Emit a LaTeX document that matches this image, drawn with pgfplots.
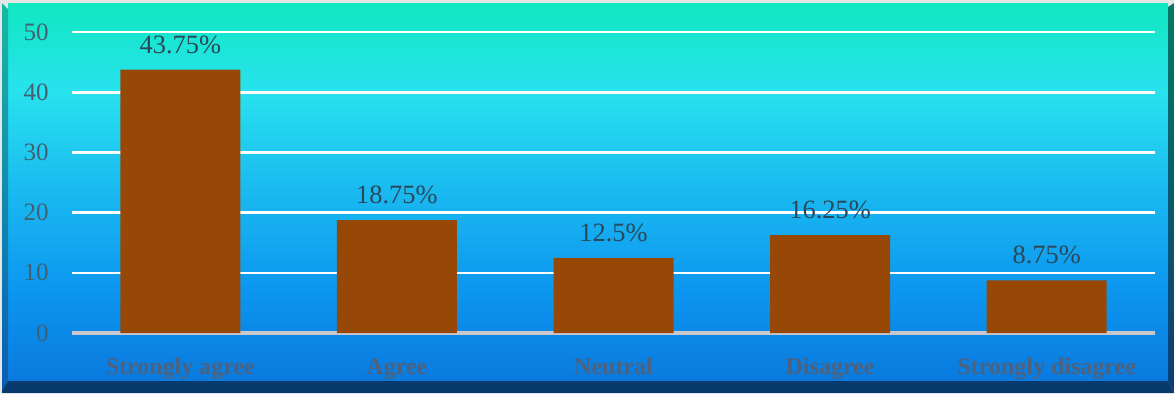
\documentclass[border=0pt]{standalone}
\usepackage{fontspec}
\setmainfont{Liberation Serif}
\usepackage{pgfplots}
\pgfplotsset{compat=1.18}
\definecolor{framegray}{RGB}{228,230,232}
\definecolor{fc1}{RGB}{10,122,222}
\definecolor{fc2}{RGB}{12,150,240}
\definecolor{fc3}{RGB}{26,186,240}
\definecolor{fc4}{RGB}{40,226,238}
\definecolor{fc5}{RGB}{16,232,192}
\definecolor{lbT}{RGB}{24,184,164}
\definecolor{lbB}{RGB}{10,92,180}
\definecolor{rbT}{RGB}{8,120,100}
\definecolor{rbB}{RGB}{10,60,120}
\definecolor{bbev}{RGB}{8,58,110}
\definecolor{barc}{RGB}{151,72,6}
\definecolor{ytl}{RGB}{68,96,112}
\definecolor{xtl}{RGB}{78,98,125}
\definecolor{dlab}{RGB}{42,72,88}
\definecolor{zline}{RGB}{200,200,204}
\pgfdeclareverticalshading{face}{100bp}{color(0bp)=(fc1); color(25bp)=(fc1); color(37bp)=(fc2); color(50.3bp)=(fc3); color(63.5bp)=(fc4); color(75bp)=(fc5); color(100bp)=(fc5)}
\begin{document}
\begin{tikzpicture}
\begin{scope}[shift={(0pt,196.5pt)},x=0.5pt,y=-0.5pt]
\fill[framegray] (0,0) rectangle (1174,393);
\shade[shading=face] (8,3) rectangle (1168,381);
\shade[top color=lbT, bottom color=lbB] (2,3) -- (8,9) -- (8,381) -- (2,390) -- cycle;
\fill[bbev] (2,393) -- (2,390) -- (8,381) -- (1168,381) -- (1174,393) -- cycle;
\shade[top color=rbT, bottom color=rbB] (1168,7) -- (1174,3) -- (1174,393) -- (1168,381) -- cycle;
\end{scope}
\begin{axis}[
  at={(36pt,30pt)}, anchor=south west,
  scale only axis, width=541.5pt, height=150.5pt,
  xmin=-0.5, xmax=4.5, ymin=0, ymax=50,
  axis line style={draw=none},
  tick style={draw=none},
  major tick length=0pt,
  ytick={10,20,30,40,50},
  extra y ticks={0},
  extra y tick style={grid style={draw=zline, line width=2pt}},
  ymajorgrids,
  grid style={white, line width=1.3pt},
  xtick={0,1,2,3,4},
  xticklabels={Strongly agree, Agree, Neutral, Disagree, Strongly disagree},
  xticklabel style={anchor=base, yshift=-20.5pt, font=\fontsize{12pt}{14pt}\selectfont\bfseries, text=xtl},
  yticklabel style={anchor=east, inner sep=0pt, xshift=-11.5pt, font=\fontsize{12.5pt}{14pt}\selectfont, text=ytl},
  /pgf/number format/assume math mode=true,
  ybar, bar width=60pt,
  nodes near coords={\pgfmathprintnumber{\pgfplotspointmeta}\%},
  nodes near coords style={anchor=base, inner sep=0pt, yshift=8.2pt, font=\fontsize{13.2pt}{15pt}\selectfont, text=dlab},
]
\addplot[fill=barc, draw=none] coordinates {(0,43.75) (1,18.75) (2,12.5) (3,16.25) (4,8.75)};
\end{axis}
\end{tikzpicture}
\end{document}
